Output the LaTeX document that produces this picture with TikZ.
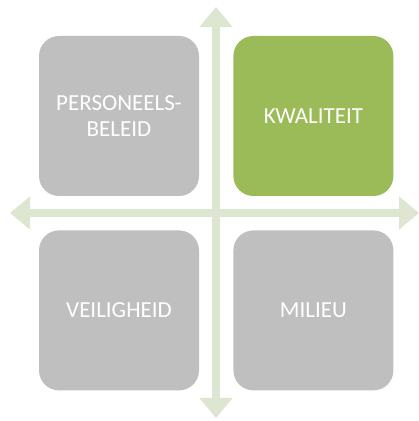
\documentclass[tikz,border=0pt]{standalone}
\usepackage{fontspec}
\setmainfont{Carlito}
\usetikzlibrary{arrows.meta,positioning}
\definecolor{boxgray}{HTML}{BFBFBF}
\definecolor{boxgreen}{HTML}{9BBB59}
\definecolor{axisgreen}{HTML}{DCE6D0}
\begin{document}
\begin{tikzpicture}[x=1pt,y=1pt]

\def\boxsize{160pt}
\def\gap{34pt}
\def\axiswidth{8pt}

\tikzset{tile/.style = {rounded corners=20pt, minimum width=\boxsize, minimum height=\boxsize, inner sep=0pt, text=white, align=center, font=\fontsize{23}{26}\selectfont}}
\tikzset{axis/.style = {draw=axisgreen, line width=\axiswidth, {Triangle[width=32pt,length=20pt]}-{Triangle[width=32pt,length=20pt]}}}

\useasboundingbox (0,0) rectangle (419,421);

% axes
\coordinate (top) at (216,414);
\coordinate (bottom) at (216,3);
\coordinate (left) at (10,208);
\coordinate (right) at (419,208);

\draw [axis] (bottom) -- (top);
\draw [axis] (left) -- (right);

% tiles
\node[tile, fill=boxgray] (personeel) at (119,305) {PERSONEELS-\\BELEID};
\node[tile, fill=boxgreen, right=\gap of personeel] (kwaliteit) {KWALITEIT};
\node[tile, fill=boxgray, below=\gap of personeel] (veiligheid) {VEILIGHEID};
\node[tile, fill=boxgray, below=\gap of kwaliteit] (milieu) {MILIEU};

\end{tikzpicture}
\end{document}
